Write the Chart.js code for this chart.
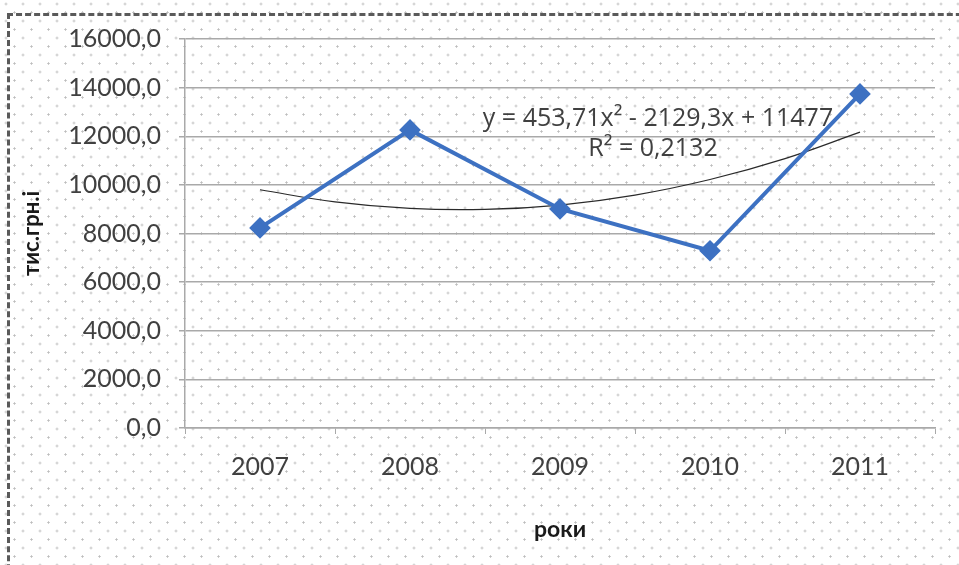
<!DOCTYPE html>
<html>
<head>
<meta charset="utf-8">
<script src="https://cdn.jsdelivr.net/npm/chart.js@4"></script>
<style>
  html, body { margin: 0; padding: 0; }
  body {
    width: 959px; height: 565px; overflow: hidden; position: relative;
    background-color: #fff;
    background-image:
      radial-gradient(circle, #bdbdbd 0.9px, transparent 1.3px),
      radial-gradient(circle, #bdbdbd 0.9px, transparent 1.3px);
    background-size: 17px 17px, 17px 17px;
    background-position: 6px 4px, 14.5px 12.5px;
  }
  #frame {
    position: absolute; left: 7px; top: 13px; width: 1000px; height: 1000px;
    border: 3px dashed #5a5a5a; box-sizing: border-box;
  }
  #wrap { position: absolute; left: 0; top: 0; width: 959px; height: 565px; }
</style>
</head>
<body>
<div id="frame"></div>
<div id="wrap"><canvas id="chart"></canvas></div>
<script>
// values
const years = ['2007', '2008', '2009', '2010', '2011'];
const income = [8230, 12260, 9010, 7290, 13740];
// polynomial trend curve, sampled at half-year steps (x = 1 .. 5)
const trendX = [1, 1.5, 2, 2.5, 3, 3.5, 4, 4.5, 5];
const trendY = [9800, 9300, 9030, 8990, 9170, 9580, 10220, 11080, 12170];
const trendLabel = ['y = 453,71x\u00b2 - 2129,3x + 11477', 'R\u00b2 = 0,2132'];

const fontFamily = 'Lato, "Open Sans", sans-serif';
const gridGrey = '#a9a9a9';

// equation text next to the trend line
const trendText = {
  id: 'trendText',
  afterDatasetsDraw(chart) {
    const ctx = chart.ctx;
    const x = chart.scales.x;
    const y = chart.scales.y;
    ctx.save();
    ctx.font = '25px "Open Sans", sans-serif';
    ctx.fillStyle = '#404040';
    ctx.textAlign = 'center';
    ctx.textBaseline = 'middle';
    const cx = x.getPixelForValue(3) - 52;
    ctx.fillText(trendLabel[0], cx, y.getPixelForValue(12700));
    ctx.fillText(trendLabel[1], cx - 5, y.getPixelForValue(11480));
    ctx.restore();
  }
};

new Chart(document.getElementById('chart'), {
  type: 'line',
  data: {
    labels: years,
    datasets: [
      {
        label: 'тис.грн.',
        data: income,
        borderColor: '#3d71c2',
        backgroundColor: '#3d71c2',
        borderWidth: 4,
        pointStyle: 'rectRot',
        pointRadius: 8,
        pointHoverRadius: 8,
        tension: 0,
        order: 1
      },
      {
        label: 'trend',
        data: trendX.map((v, i) => ({ x: v, y: trendY[i] })),
        xAxisID: 'xt',
        borderColor: '#2a2a2a',
        borderWidth: 1.2,
        pointRadius: 0,
        tension: 0.4,
        order: 2
      }
    ]
  },
  options: {
    responsive: true,
    maintainAspectRatio: false,
    animation: false,
    layout: { padding: { left: 19, top: 39, right: 24, bottom: 18 } },
    plugins: {
      legend: { display: false },
      tooltip: { enabled: false }
    },
    scales: {
      x: {
        offset: true,
        grid: { display: true, drawOnChartArea: false, offset: true, tickLength: 6, color: gridGrey },
        border: { display: true, color: gridGrey, width: 1.5 },
        ticks: { color: '#404040', font: { family: fontFamily, size: 25 }, padding: 18 },
        title: {
          display: true, text: 'роки', color: '#1a1a1a',
          font: { family: fontFamily, size: 23, weight: 'bold' },
          padding: { top: 20 }
        },
        afterFit(scale) { scale.height = 119; }
      },
      xt: {
        type: 'linear',
        display: false,
        min: 0.5,
        max: 5.5
      },
      y: {
        min: 0,
        max: 16000,
        ticks: {
          stepSize: 2000,
          color: '#404040',
          font: { family: fontFamily, size: 25 },
          padding: 18,
          callback: v => v.toFixed(1).replace('.', ',')
        },
        grid: { color: gridGrey, lineWidth: 1.5, tickLength: 6 },
        border: { display: true, color: gridGrey, width: 1.5 },
        title: {
          display: true, text: 'тис.грн.і', color: '#1a1a1a',
          font: { family: fontFamily, size: 22, weight: 'bold' },
          padding: { top: 0, bottom: 0 }
        },
        afterFit(scale) { scale.width = 166; }
      }
    }
  },
  plugins: [trendText]
});
</script>
</body>
</html>
